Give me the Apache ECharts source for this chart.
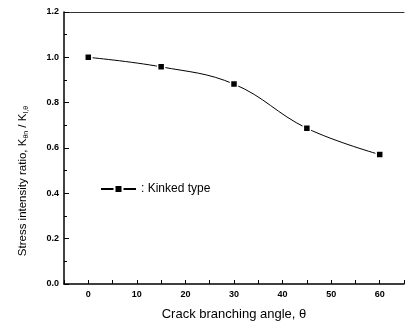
<!DOCTYPE html>
<html><head><meta charset="utf-8">
<script src="https://cdn.jsdelivr.net/npm/echarts@6/dist/echarts.min.js"></script>
<style>html,body{margin:0;padding:0;background:#fff}#c{width:407px;height:326px}</style>
</head><body><div id="c"></div>
<script>
var angles = [0, 15, 30, 45, 60];
var ratios = [1.0, 0.958, 0.882, 0.687, 0.571];
var seriesName = ': Kinked type';
var xTitle = 'Crack branching angle, \u03b8';
var chart = echarts.init(document.getElementById('c'));
var font = 'Liberation Sans, Arial, sans-serif';
chart.setOption({
  animation: false,
  grid: {left: 64, right: 0, top: 12, bottom: 41},
  legend: {
    left: 100, top: 183, padding: 0, itemWidth: 35, itemHeight: 10, itemGap: 2,
    textStyle: {fontFamily: font, fontSize: 12, color: '#000'},
    data: [{name: seriesName}]
  },
  graphic: [{
    type: 'text', x: 23, y: 181, rotation: Math.PI / 2,
    style: {
      text: '{n|Stress intensity ratio, K}{s|\u03b8n}{n| / K}{s|I,\u03b8}',
      align: 'center', verticalAlign: 'middle',
      rich: {
        n: {fontFamily: font, fontSize: 11.5, fill: '#000', align: 'center'},
        s: {fontFamily: font, fontSize: 7, fill: '#000', padding: [6, 0, 0, 0]}
      }
    }
  }],
  xAxis: [{
    type: 'value', min: -5, max: 65, interval: 5,
    name: xTitle, nameLocation: 'middle', nameGap: 24,
    nameTextStyle: {fontFamily: font, fontSize: 13, color: '#000'},
    axisLine: {onZero: false, lineStyle: {color: '#000', width: 1.5}},
    axisTick: {inside: true, length: 4, lineStyle: {color: '#000'}},
    axisLabel: {fontFamily: font, fontSize: 9, fontWeight: 'bold', color: '#000', margin: 6,
      formatter: function(v){ return (v >= 0 && v % 10 === 0 && v <= 60) ? v : ''; }},
    splitLine: {show: false}
  }, {
    type: 'value', position: 'top', min: -5, max: 65,
    axisLine: {onZero: false, lineStyle: {color: '#333', width: 1}},
    axisTick: {show: false}, axisLabel: {show: false}, splitLine: {show: false}
  }],
  yAxis: {
    type: 'value', min: 0, max: 1.2, interval: 0.2,
    axisLine: {onZero: false, lineStyle: {color: '#000', width: 1.5}},
    axisTick: {inside: true, length: 5, lineStyle: {color: '#000'}},
    minorTick: {show: true, splitNumber: 2, length: 3, lineStyle: {color: '#000'}},
    axisLabel: {fontFamily: font, fontSize: 9, fontWeight: 'bold', color: '#000', margin: 5,
      formatter: function(v){ return v.toFixed(1); }},
    splitLine: {show: false}
  },
  series: [{
    name: seriesName, type: 'line', smooth: 0.4,
    data: angles.map(function(a, i){ return [a, ratios[i]]; }),
    symbol: 'rect', symbolSize: 7,
    lineStyle: {color: '#000', width: 1},
    itemStyle: {color: '#000', borderColor: '#fff', borderWidth: 1.5}
  }]
});
</script></body></html>
